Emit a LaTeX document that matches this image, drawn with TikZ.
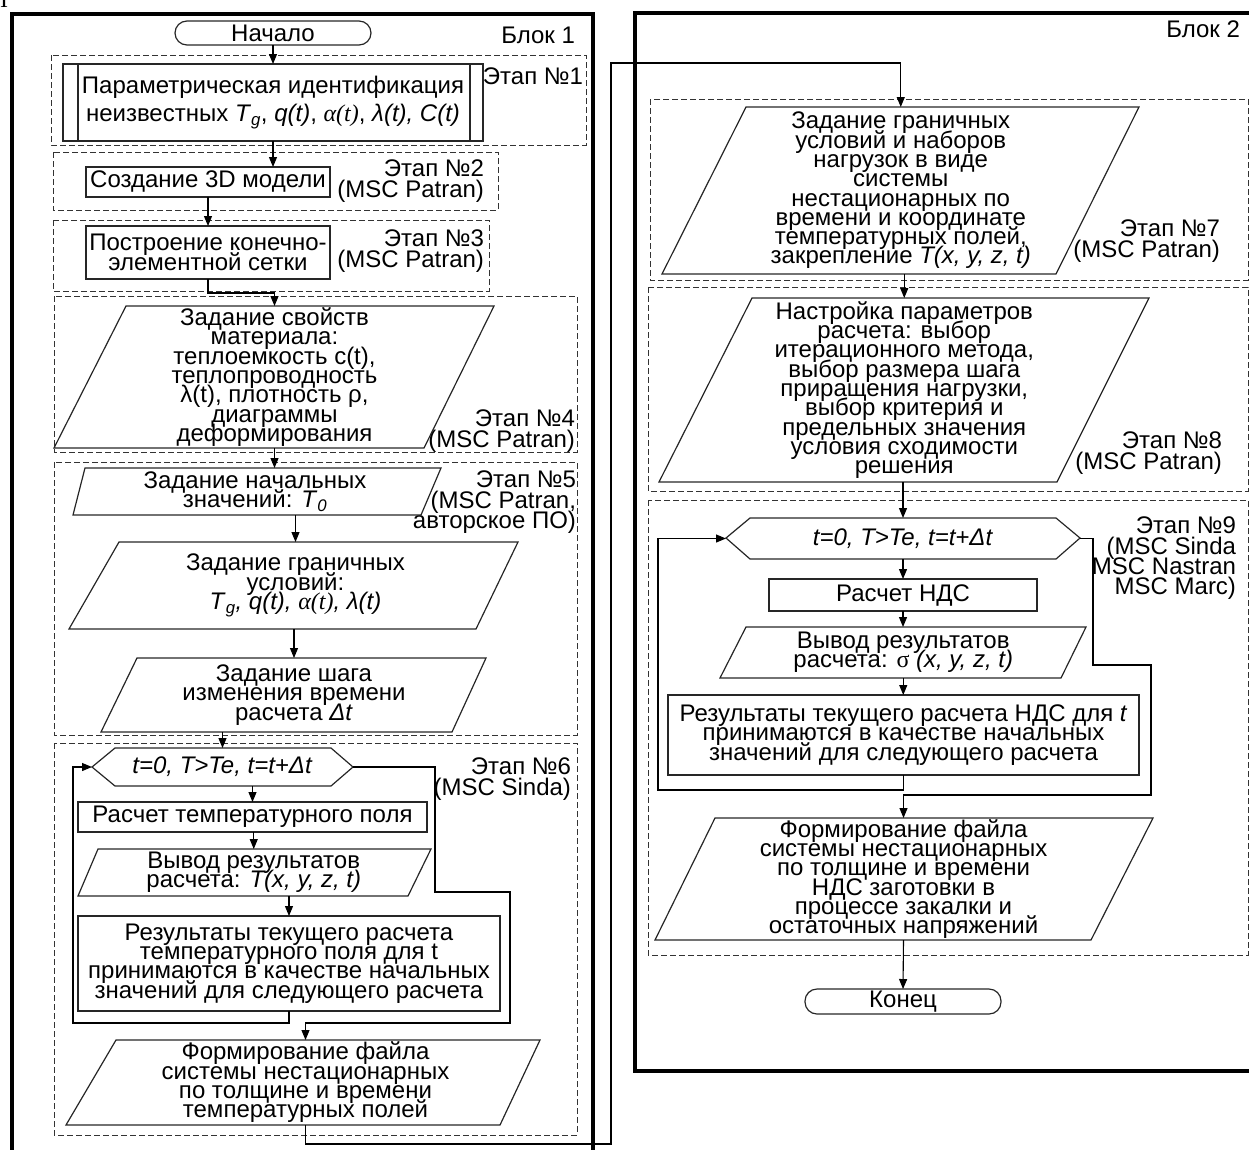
\documentclass[tikz,border=0pt]{standalone}
\usepackage{fontspec}
\setmainfont{Liberation Sans}
\newfontfamily\serifrm{Liberation Serif}
\usetikzlibrary{arrows.meta}
\newcommand\fs{\fontsize{24}{19.3}\selectfont\lineskiplimit=-100pt\relax}
\newcommand\fsl{\fontsize{24}{20.4}\selectfont\lineskiplimit=-100pt\relax}
\newcommand\fsw{\fontsize{24}{28}\selectfont\lineskiplimit=-100pt\relax}
\tikzset{
  every node/.style={inner sep=0pt, outer sep=0pt},
  txt/.style={align=center, font=\fs},
  shp/.style={draw=black!85, line width=1.2pt},
  stage/.style={draw=black!80, line width=1pt, dash pattern=on 6pt off 3pt},
  blk/.style={draw=black, line width=4pt},
  conn/.style={draw=black, line width=1.1pt},
  arr/.style={conn, -{Triangle[length=10pt,width=8pt]}},
  lbl/.style={anchor=north east, align=right, font=\fsl},
}
% name, top-left x, top-right x, top y, bottom-left x, bottom-right x, bottom y, text
\newcommand\pgram[8]{%
  \draw[shp] (#2,#4) -- (#3,#4) -- (#6,#7) -- (#5,#7) -- cycle;
  \node[txt, minimum height={#7-#4}] (#1) at ({(#2+#3+#5+#6)/4},{(#4+#7)/2}) {#8};
}
\newcommand\Tg{\textit{T}\textsubscript{\textit{g}}}
\newcommand\alphat{{\serifrm\itshape α(t)}}
\begin{document}
\begin{tikzpicture}[x=1pt,y=-1pt]
\useasboundingbox (0,0) rectangle (1249,1149);
\clip (0,0) rectangle (1249,1149);

\node[font=\serifrm\fontsize{24}{24}\selectfont, anchor=base west] (art) at (0,7) {I};

% blocks
\draw[blk] (12,14) rectangle (593,1175);
\draw[blk] (635,13) rectangle (1280,1071);
\node[lbl] (blk1) at (575,27) {Блок 1};
\node[lbl] (blk2) at (1240,21) {Блок 2};

% stage frames
\draw[stage] (51,55) rectangle (586,145);
\draw[stage] (53,152) rectangle (498,210);
\draw[stage] (53,220) rectangle (489,291);
\draw[stage] (54,296) rectangle (577,452);
\draw[stage] (54,462) rectangle (577,735);
\draw[stage] (54,743) rectangle (577,1135);
\draw[stage] (650,99) rectangle (1248,280);
\draw[stage] (648,287) rectangle (1248,491);
\draw[stage] (648,500) rectangle (1248,955);

\node[lbl] (e1) at (583,68) {Этап №1};
\node[lbl] (e2) at (484,160) {Этап №2\\(MSC Patran)};
\node[lbl] (e3) at (484,230) {Этап №3\\(MSC Patran)};
\node[lbl] (e4) at (575,410) {Этап №4\\(MSC Patran)};
\node[lbl] (e5) at (576,471) {Этап №5\\(MSC Patran,\\авторское ПО)};
\node[lbl] (e6) at (571,758) {Этап №6\\(MSC Sinda)};
\node[lbl] (e7) at (1220,220) {Этап №7\\(MSC Patran)};
\node[lbl] (e8) at (1222,432) {Этап №8\\(MSC Patran)};
\node[lbl] (e9) at (1236,517) {Этап №9\\(MSC Sinda\\MSC Nastran\\MSC Marc)};

% ---------- Block 1 ----------
\node[shp, txt, rounded corners=12pt, minimum width=196pt, minimum height=24pt] (start) at (273,33) {Начало};

\node[shp, txt, font=\fsw, minimum width=420pt, minimum height=77pt] (s1) at (273,102.5)
  {Параметрическая идентификация\\неизвестных \Tg, \textit{q(t)}, \alphat, \textit{λ(t), C(t)}};
\draw[shp] ([xshift=15pt]s1.north west) -- ([xshift=15pt]s1.south west);
\draw[shp] ([xshift=-13pt]s1.north east) -- ([xshift=-13pt]s1.south east);

\node[shp, txt, minimum width=244pt, minimum height=30pt] (m3d) at (208,182) {Создание 3D модели};
\node[shp, txt, minimum width=244pt, minimum height=53pt] (mesh) at (208,252.5) {Построение конечно-\\элементной сетки};

\pgram{p4}{126}{494}{306}{54}{424}{448}{Задание свойств\\материала:\\теплоемкость c(t),\\теплопроводность\\λ(t), плотность ρ,\\диаграммы\\деформирования}
\pgram{p5}{85}{441}{468}{73}{421}{515}{Задание начальных\\значений: \textit{T}\textsubscript{\textit{0}}}
\pgram{p6}{119}{518}{542}{69}{476}{629}{Задание граничных\\условий:\\\Tg\textit{, q(t), }\alphat\textit{, λ(t)}}
\pgram{p7}{137}{486}{658}{101}{452}{732}{Задание шага\\изменения времени\\расчета \textit{Δt}}

\draw[shp] (92,767) -- (115,748) -- (331,748) -- (353,767) -- (331,786) -- (115,786) -- cycle;
\node[txt, minimum width=261pt, minimum height=38pt] (hex1) at (222.5,767) {\textit{t=0, T>Te, t=t+Δt}};

\node[shp, txt, minimum width=349pt, minimum height=30pt] (b6a) at (252.5,817) {Расчет температурного поля};
\pgram{p6b}{98}{431}{849}{78}{408}{896}{Вывод результатов\\расчета: \textit{T(x, y, z, t)}}
\node[shp, txt, minimum width=422pt, minimum height=95pt] (b6c) at (289,963.5)
  {Результаты текущего расчета\\температурного поля для t\\принимаются в качестве начальных\\значений для следующего расчета};
\pgram{p6d}{116}{540}{1040}{66}{500}{1125}{Формирование файла\\системы нестационарных\\по толщине и времени\\температурных полей}

% ---------- Block 2 ----------
\pgram{p8}{746}{1139}{107}{662}{1056}{274}{Задание граничных\\условий и наборов\\нагрузок в виде\\системы\\нестационарных по\\времени и координате\\температурных полей,\\закрепление \textit{T(x, y, z, t)}}
\pgram{p9}{752}{1149}{298}{659}{1057}{482}{Настройка параметров\\расчета: выбор\\итерационного метода,\\выбор размера шага\\приращения нагрузки,\\выбор критерия и\\предельных значения\\условия сходимости\\решения}

\draw[shp] (726,538) -- (750,518) -- (1056,518) -- (1080,538) -- (1056,559) -- (750,559) -- cycle;
\node[txt, minimum width=354pt, minimum height=41pt] (hex2) at (903,538.5) {\textit{t=0, T>Te, t=t+Δt}};

\node[shp, txt, minimum width=268pt, minimum height=32pt] (b9a) at (903,595) {Расчет НДС};
\pgram{p9b}{746}{1086}{627}{720}{1061}{678}{Вывод результатов\\расчета: {\serifrm σ} \textit{(x, y, z, t)}}
\node[shp, txt, minimum width=471pt, minimum height=80pt] (b9c) at (903.5,735)
  {Результаты текущего расчета НДС для \textit{t}\\принимаются в качестве начальных\\значений для следующего расчета};
\pgram{p9d}{715}{1153}{818}{655}{1091}{940}{Формирование файла\\системы нестационарных\\по толщине и времени\\НДС заготовки в\\процессе закалки и\\остаточных напряжений}

\node[shp, txt, rounded corners=12pt, minimum width=196pt, minimum height=25pt] (end) at (903,1001.5) {Конец};

% ---------- connectors ----------
\coordinate (b34) at (208,293);
\coordinate (L1) at (73,1023);
\coordinate (E1a) at (435,892);
\coordinate (E1b) at (510,1023);
\coordinate (X1) at (611,1144);
\coordinate (X2) at (611,63);
\coordinate (L2) at (658,790);
\coordinate (E2a) at (1093,665);
\coordinate (E2b) at (1151,795);

\draw[arr] (start.south) -- (start.south |- s1.north);
\draw[arr] (s1.south) -- (s1.south |- m3d.north);
\draw[arr] (m3d.south) -- (mesh.north);
\draw[arr] (mesh.south) -- (b34) -| (p4.north);
\draw[arr] (p4.south) -- (p4.south |- p5.north);
\draw[arr] (p6.north |- p5.south) -- (p6.north);
\draw[arr] (p7.north |- p6.south) -- (p7.north);
\draw[arr] (hex1.north |- p7.south) -- (hex1.north);
\draw[arr] (b6a.north |- hex1.south) -- (b6a.north);
\draw[arr] (p6b.north |- b6a.south) -- (p6b.north);
\draw[arr] (b6c.north |- p6b.south) -- (b6c.north);
\draw[arr] (b6c.south) |- (L1) |- (hex1.west);
\draw[arr] (hex1.east) -| (E1a) -| (E1b) -| (p6d.north);
\draw[arr] (p6d.south) |- (X1) -- (X2) -| (p8.north);

\draw[arr] (p9.north |- p8.south) -- (p9.north);
\draw[arr] (hex2.north |- p9.south) -- (hex2.north);
\draw[arr] (hex2.south) -- (b9a.north);
\draw[arr] (b9a.south) -- (b9a.south |- p9b.north);
\draw[arr] (p9b.south) -- (p9b.south |- b9c.north);
\draw[arr] (b9c.south) |- (L2) |- (hex2.west);
\draw[arr] (hex2.east) -| (E2a) -| (E2b) -| (p9d.north);
\draw[arr] (p9d.south) -- (end.north);
\end{tikzpicture}
\end{document}
